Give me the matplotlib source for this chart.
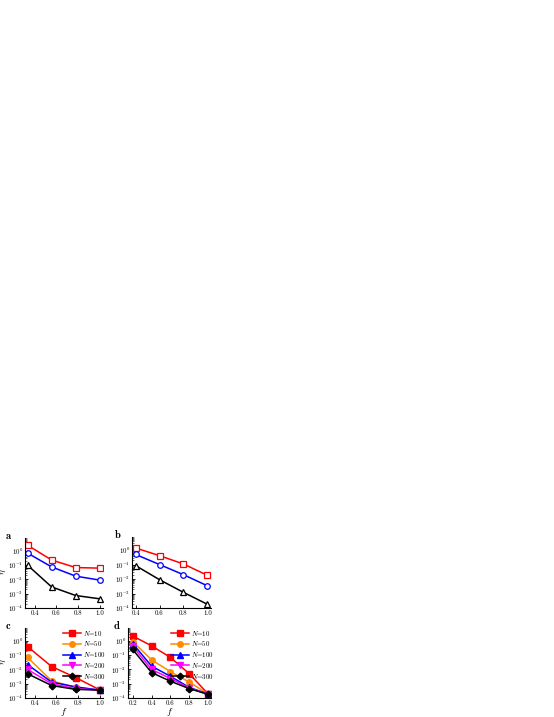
import matplotlib
matplotlib.use("Agg")
import matplotlib.pyplot as plt
from matplotlib.ticker import LogLocator, NullFormatter

plt.rcParams['font.family'] = 'serif'
plt.rcParams['font.serif'] = ['cmr10', 'DejaVu Serif']
plt.rcParams['mathtext.fontset'] = 'cm'
plt.rcParams['axes.formatter.use_mathtext'] = True

# ---- data ----
fa = [1/3, 5/9, 7/9, 1.0]
a_red = [2.5, 0.23, 0.068, 0.062]
a_blue = [0.7, 0.076, 0.017, 0.009]
a_black = [0.1, 0.003, 0.00075, 0.00044]

fb = [0.4, 0.6, 0.8, 1.0]
b_red = [1.4, 0.41, 0.11, 0.018]
b_blue = [0.5, 0.1, 0.02, 0.0034]
b_black = [0.085, 0.009, 0.0012, 0.00018]

fc = [1/3, 5/9, 7/9, 1.0]
c_N10 = [0.4, 0.016, 0.0027, 0.00037]
c_N50 = [0.07, 0.0016, 0.00055, 0.00035]
c_N100 = [0.022, 0.0013, 0.0006, 0.00036]
c_N200 = [0.01, 0.001, 0.00045, 0.00036]
c_N300 = [0.005, 0.00075, 0.0004, 0.00036]

fd = [0.2, 0.4, 0.6, 0.8, 1.0]
d_N10 = [2.2, 0.45, 0.07, 0.005, 0.00019]
d_N50 = [0.9, 0.047, 0.007, 0.0013, 0.00019]
d_N100 = [0.65, 0.017, 0.0033, 0.00055, 0.00019]
d_N200 = [0.42, 0.01, 0.0023, 0.0005, 0.00018]
d_N300 = [0.25, 0.006, 0.0015, 0.00045, 0.00018]

legend_labels = ['$N$=10', '$N$=50', '$N$=100', '$N$=200', '$N$=300']
xticks_abc = [0.4, 0.6, 0.8, 1.0]
xticks_d = [0.2, 0.4, 0.6, 0.8, 1.0]

W, H = 554, 717
fig = plt.figure(figsize=(W/100, H/100), dpi=100)

def make_ax(l, r, t, b):
    return fig.add_axes([l/W, (H-b)/H, (r-l)/W, (b-t)/H])

axa = make_ax(25, 103, 538, 608)
axb = make_ax(132, 211, 537, 608)
axc = make_ax(25, 103, 628, 698)
axd = make_ax(128, 211, 628, 698)

fs = 4.9
lw = 1.1
ms = 4.0

def style(ax, xlim, xticks, label, lab_x=-0.2):
    ax.set_yscale('log')
    ax.set_ylim(1e-4, 8)
    ax.set_xlim(*xlim)
    ax.set_yticks([1e-4, 1e-3, 1e-2, 1e-1, 1e0])
    ax.yaxis.set_minor_locator(LogLocator(base=10, subs=range(2, 10), numticks=20))
    ax.yaxis.set_minor_formatter(NullFormatter())
    ax.set_xticks(xticks)
    ax.set_xticklabels([f'{v:.1f}' for v in xticks])
    for s in ['top', 'right']:
        ax.spines[s].set_visible(False)
    for s in ['left', 'bottom']:
        ax.spines[s].set_linewidth(0.8)
    ax.tick_params(which='major', direction='in', length=2.5, width=0.6, labelsize=fs, pad=1.5)
    ax.tick_params(which='minor', direction='in', length=1.3, width=0.4)
    ax.text(lab_x, 1.03, label, transform=ax.transAxes, fontsize=7.5, family='cmb10',
            ha='left', va='center')

mk_kw = dict(lw=lw, ms=ms, mew=0.9, mfc='white')
axa.plot(fa, a_red, '-s', color='red', mec='red', **mk_kw)
axa.plot(fa, a_blue, '-o', color='blue', mec='blue', **mk_kw)
axa.plot(fa, a_black, '-^', color='black', mec='black', **mk_kw)
style(axa, (0.31, 1.03), xticks_abc, 'a', -0.25)
axa.set_ylabel(r'$\eta$', fontsize=6.5)
axa.yaxis.set_label_coords(-0.215, 0.52)

axb.plot(fb, b_red, '-s', color='red', mec='red', **mk_kw)
axb.plot(fb, b_blue, '-o', color='blue', mec='blue', **mk_kw)
axb.plot(fb, b_black, '-^', color='black', mec='black', **mk_kw)
style(axb, (0.37, 1.03), xticks_abc, 'b', -0.22)

colors = ['red', 'darkorange', 'blue', 'magenta', 'black']
markers = ['s', 'o', '^', 'v', 'D']
c_series = [c_N10, c_N50, c_N100, c_N200, c_N300]
d_series = [d_N10, d_N50, d_N100, d_N200, d_N300]

for ys, col, mk, lab in zip(c_series, colors, markers, legend_labels):
    axc.plot(fc, ys, '-' + mk, color=col, lw=lw, ms=ms if mk != 'D' else ms*0.85, label=lab)
style(axc, (0.31, 1.03), xticks_abc, 'c', -0.25)
axc.set_ylabel(r'$\eta$', fontsize=6.5)
axc.yaxis.set_label_coords(-0.215, 0.52)
axc.set_xlabel(r'$f$', fontsize=7)
axc.xaxis.set_label_coords(0.5, -0.12)
axc.legend(loc='upper right', bbox_to_anchor=(1.1, 1.06), fontsize=5.0, frameon=False,
           handlelength=2.6, handletextpad=0.3, labelspacing=0.25, borderpad=0.2)

for ys, col, mk, lab in zip(d_series, colors, markers, legend_labels):
    axd.plot(fd, ys, '-' + mk, color=col, lw=lw, ms=ms if mk != 'D' else ms*0.85, label=lab)
style(axd, (0.15, 1.03), xticks_d, 'd', -0.17)
axd.set_xlabel(r'$f$', fontsize=7)
axd.xaxis.set_label_coords(0.5, -0.12)
axd.legend(loc='upper right', bbox_to_anchor=(1.1, 1.06), fontsize=5.0, frameon=False,
           handlelength=2.6, handletextpad=0.3, labelspacing=0.25, borderpad=0.2)

fig.savefig('out.png', dpi=100)
